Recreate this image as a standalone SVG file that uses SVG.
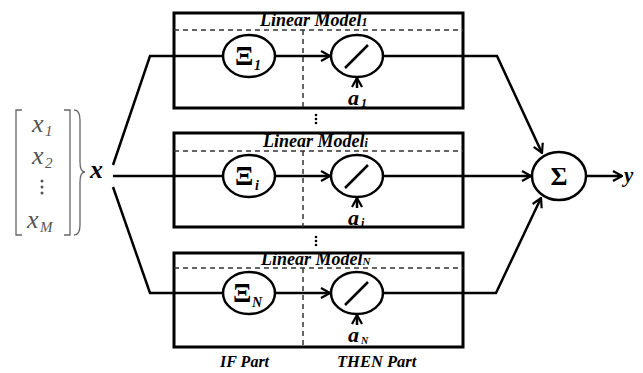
<svg xmlns="http://www.w3.org/2000/svg" width="643" height="373" viewBox="0 0 643 373">
<defs>
<marker id="ah" viewBox="0 0 12 12" refX="11" refY="6" markerWidth="12" markerHeight="12" markerUnits="userSpaceOnUse" orient="auto">
<path d="M2,1 L11,6 L2,11" fill="none" stroke="#000" stroke-width="2.2"/>
</marker>
</defs>
<style>
.box{fill:none;stroke:#000;stroke-width:3}
.dash{fill:none;stroke:#333;stroke-width:1.5;stroke-dasharray:5,4}
.ln{fill:none;stroke:#000;stroke-width:2.5}
.ar{fill:none;stroke:#000;stroke-width:2.5;marker-end:url(#ah)}
.node{fill:#fff;stroke:#000;stroke-width:2.5}
.t{font-family:'Liberation Serif','Times New Roman',serif;font-weight:bold;font-style:italic;fill:#000}
.m{font-family:'Liberation Serif','Times New Roman',serif;font-style:italic;fill:#555}
.g{font-family:'Liberation Serif','Times New Roman',serif;font-weight:bold;fill:#000}
.dots{fill:#000}
</style>
<g id="input">
<path d="M22,110 L16,110 L16,235 L22,235 M64,110 L70,110 L70,235 L64,235" fill="none" stroke="#666" stroke-width="1.3"/>
<path d="M74,110 Q80,110 80,120 L80,162 Q80,172 85,172 Q80,172 80,182 L80,225 Q80,235 74,235" fill="none" stroke="#666" stroke-width="1.3"/>
<text class="m" x="32" y="132" font-size="26">x</text><text class="m" x="45" y="136" font-size="15">1</text>
<text class="m" x="32" y="164" font-size="26">x</text><text class="m" x="45" y="168" font-size="15">2</text>
<circle cx="42" cy="181" r="1.5" fill="#555"/><circle cx="42" cy="187" r="1.5" fill="#555"/><circle cx="42" cy="193" r="1.5" fill="#555"/>
<text class="m" x="27" y="228" font-size="26">x</text><text class="m" x="40" y="232" font-size="15">M</text>
<text class="t" x="90" y="178" font-size="26">x</text>
</g>
<g id="model1">
<rect class="box" x="174" y="13" width="289" height="95"/>
<line class="dash" x1="174" y1="30" x2="463" y2="30"/>
<line class="dash" x1="303" y1="30" x2="303" y2="108"/>
<text class="t" x="260" y="26" font-size="18">Linear Model<tspan font-size="12">1</tspan></text>
</g>
<g id="model2">
<rect class="box" x="174" y="133" width="289" height="94"/>
<line class="dash" x1="174" y1="151" x2="463" y2="151"/>
<line class="dash" x1="303" y1="151" x2="303" y2="227"/>
<text class="t" x="263" y="147" font-size="18">Linear Model<tspan font-size="12">i</tspan></text>
</g>
<g id="model3">
<rect class="box" x="174" y="253" width="289" height="94"/>
<line class="dash" x1="174" y1="268" x2="463" y2="268"/>
<line class="dash" x1="303" y1="268" x2="303" y2="347"/>
<text class="t" x="261" y="265" font-size="18">Linear Model<tspan font-size="11">N</tspan></text>
</g>
<g id="vdots">
<circle class="dots" cx="316" cy="115" r="1.3"/><circle class="dots" cx="316" cy="119" r="1.3"/><circle class="dots" cx="316" cy="123" r="1.3"/>
<circle class="dots" cx="316" cy="237" r="1.3"/><circle class="dots" cx="316" cy="241" r="1.3"/><circle class="dots" cx="316" cy="245" r="1.3"/>
</g>
<g id="connectors">
<polyline class="ln" points="113,165 150,56 222,56"/>
<line class="ln" x1="113" y1="176" x2="222" y2="176"/>
<polyline class="ln" points="113,187 150,293 222,293"/>
<line class="ar" x1="276" y1="56" x2="330" y2="56"/>
<line class="ar" x1="276" y1="176" x2="330" y2="176"/>
<line class="ar" x1="276" y1="293" x2="330" y2="293"/>
<line class="ar" x1="357" y1="88" x2="357" y2="78"/>
<line class="ar" x1="357" y1="208" x2="357" y2="198"/>
<line class="ar" x1="357" y1="325" x2="357" y2="315"/>
<polyline class="ar" points="383,56 497,56 542,153"/>
<line class="ar" x1="383" y1="176" x2="531" y2="176"/>
<polyline class="ar" points="383,293 496,293 541,198"/>
<line class="ar" x1="586" y1="176" x2="622" y2="176"/>
</g>
<g id="xi1"><ellipse class="node" cx="249" cy="56" rx="26" ry="21"/><text class="g" x="235" y="65" font-size="27">Ξ</text><text class="t" x="254" y="70" font-size="14">1</text></g>
<g id="xi2"><ellipse class="node" cx="249" cy="176" rx="26" ry="21"/><text class="g" x="235" y="185" font-size="27">Ξ</text><text class="t" x="255" y="190" font-size="14">i</text></g>
<g id="xi3"><ellipse class="node" cx="249" cy="293" rx="26" ry="21"/><text class="g" x="233" y="302" font-size="27">Ξ</text><text class="t" x="252" y="307" font-size="14">N</text></g>
<g id="lin1"><ellipse class="node" cx="357" cy="56" rx="26" ry="21"/><line class="ln" x1="345" y1="68" x2="368" y2="45"/></g>
<g id="lin2"><ellipse class="node" cx="357" cy="176" rx="26" ry="21"/><line class="ln" x1="345" y1="188" x2="368" y2="165"/></g>
<g id="lin3"><ellipse class="node" cx="357" cy="293" rx="26" ry="21"/><line class="ln" x1="345" y1="305" x2="368" y2="282"/></g>
<g id="a1"><text class="t" x="348" y="105" font-size="22">a</text><text class="t" x="361" y="107" font-size="12">1</text></g>
<g id="a2"><text class="t" x="348" y="225" font-size="22">a</text><text class="t" x="361" y="227" font-size="12">i</text></g>
<g id="a3"><text class="t" x="348" y="342" font-size="22">a</text><text class="t" x="361" y="344" font-size="10">N</text></g>
<g id="sum"><ellipse class="node" cx="559" cy="176" rx="27" ry="24"/><text class="g" x="559" y="185" font-size="26" text-anchor="middle">Σ</text></g>
<text class="t" x="624" y="182" font-size="21">y</text>
<text class="t" x="220" y="367" font-size="16">IF Part</text>
<text class="t" x="337" y="367" font-size="16.5">THEN Part</text>
</svg>
